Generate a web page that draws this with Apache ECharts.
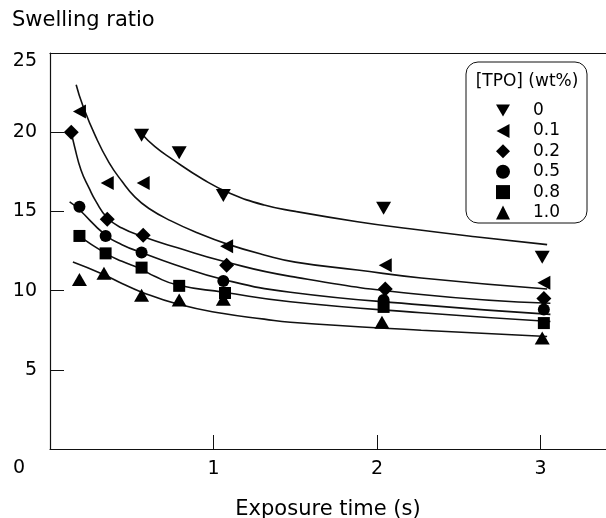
<!DOCTYPE html>
<html>
<head>
<meta charset="utf-8">
<script src="https://cdn.jsdelivr.net/npm/echarts@6/dist/echarts.min.js"></script>
<style>
  html, body { margin: 0; background: #fff; }
  #main { width: 606px; height: 518px; }
</style>
</head>
<body>
<div id="main"></div>
<script>
// [TPO] content (wt%) of each series
const concentrations = ['0', '0.1', '0.2', '0.5', '0.8', '1.0']

// measured swelling ratio vs exposure time (s)
const measured0 = [[0.56, 19.8], [0.79, 18.7], [1.06, 16.0], [2.04, 15.2], [3.01, 12.1]]
const measured1 = [[0.18, 21.3], [0.35, 16.8], [0.57, 16.8], [1.08, 12.8], [2.05, 11.6], [3.02, 10.5]]
const measured2 = [[0.13, 20.0], [0.35, 14.5], [0.57, 13.5], [1.08, 11.6], [2.05, 10.1], [3.02, 9.5]]
const measured3 = [[0.18, 15.3], [0.34, 13.45], [0.56, 12.4], [1.06, 10.6], [2.04, 9.4], [3.02, 8.8]]
const measured4 = [[0.18, 13.45], [0.34, 12.35], [0.56, 11.45], [0.79, 10.3], [1.07, 9.85], [2.04, 8.97], [3.02, 7.95]]
const measured5 = [[0.18, 10.7], [0.33, 11.1], [0.56, 9.7], [0.79, 9.4], [1.06, 9.45], [2.03, 8.0], [3.01, 7.0]]

// fitted curves
const fitted0 = [[0.56, 19.9], [0.64, 19.1], [0.74, 18.35], [0.94, 17.0], [1.1, 16.15], [1.31, 15.4], [1.5, 15.0], [1.88, 14.35], [2.2, 13.9], [2.6, 13.4], [3.04, 12.9]]
const fitted1 = [[0.16, 23.0], [0.2, 21.7], [0.28, 19.7], [0.36, 18.1], [0.44, 16.9], [0.52, 15.9], [0.61, 15.15], [0.74, 14.4], [0.9, 13.65], [1.08, 12.95], [1.31, 12.25], [1.5, 11.8], [1.88, 11.3], [2.27, 10.8], [3.04, 10.1]]
const fitted2 = [[0.13, 20.0], [0.15, 19.1], [0.19, 17.6], [0.24, 16.45], [0.28, 15.65], [0.35, 14.6], [0.44, 13.95], [0.57, 13.4], [0.78, 12.7], [1.06, 11.85], [1.47, 10.9], [2.27, 9.75], [3.06, 9.2]]
const fitted3 = [[0.12, 15.6], [0.17, 15.2], [0.34, 13.5], [0.44, 12.9], [0.56, 12.4], [0.76, 11.65], [1.06, 10.7], [1.47, 9.9], [2.27, 9.1], [3.06, 8.5]]
const fitted4 = [[0.17, 13.5], [0.34, 12.35], [0.44, 11.85], [0.55, 11.4], [0.64, 10.9], [0.78, 10.35], [1.06, 9.9], [1.47, 9.3], [2.27, 8.6], [3.06, 8.05]]
const fitted5 = [[0.14, 11.8], [0.32, 11.05], [0.44, 10.45], [0.55, 9.95], [0.78, 9.15], [1.06, 8.55], [1.31, 8.2], [1.47, 8.0], [2.27, 7.5], [3.04, 7.1]]

const xTickLabels = ['', '1', '2', '3']
const yTickLabels = ['', '5', '10', '15', '20', '{top|25}']

;(function () {
  const font = 'DejaVu Sans'
  const ink = '#111'

  const measured = [measured0, measured1, measured2, measured3, measured4, measured5]
  const fitted = [fitted0, fitted1, fitted2, fitted3, fitted4, fitted5]

  // pointing down / left triangles drawn as paths so the legend shows them too
  const down = 'path://M0,0 L15,0 L7.5,13 Z'
  const left = 'path://M13,0 L13,14 L0,7 Z'

  const marks = [
    { symbol: down, size: [15, 13] },
    { symbol: left, size: [13, 14] },
    { symbol: 'diamond', size: [15, 15] },
    { symbol: 'circle', size: 12 },
    { symbol: 'rect', size: 12 },
    { symbol: 'triangle', size: [15, 13] },
  ]

  const series = []
  for (let i = 0; i < concentrations.length; i++) {
    series.push({
      name: 'fit' + i,
      type: 'line',
      data: fitted[i],
      smooth: 0.5,
      showSymbol: false,
      lineStyle: { color: ink, width: 1.6 },
      z: 2,
      silent: true,
    })
    series.push({
      name: concentrations[i],
      type: 'scatter',
      data: measured[i],
      symbol: marks[i].symbol,
      symbolSize: marks[i].size,
      itemStyle: { color: '#000', opacity: 1 },
      z: 3,
    })
  }

  const chart = echarts.init(document.getElementById('main'))
  chart.setOption({
    animation: false,
    backgroundColor: '#fff',
    textStyle: { fontFamily: font, color: '#000' },
    grid: { left: 50, right: 0, top: 53, bottom: 69, outerBoundsMode: 'none', containLabel: false },
    xAxis: [
      {
        type: 'value',
        min: 0,
        max: 3.4,
        interval: 1,
        name: 'Exposure time (s)',
        nameLocation: 'middle',
        nameGap: 50,
        nameTextStyle: { fontFamily: font, fontSize: 21, color: '#000' },
        axisLine: { lineStyle: { color: ink, width: 1.2 } },
        axisTick: { inside: true, length: 14, lineStyle: { color: ink } },
        axisLabel: {
          fontFamily: font,
          fontSize: 19,
          color: '#000',
          margin: 11,
          showMaxLabel: false,
          formatter: (v) => xTickLabels[Math.round(v)] || '',
        },
        splitLine: { show: false },
      },
      {
        type: 'value',
        position: 'top',
        min: 0,
        max: 3.4,
        axisLine: { show: true, lineStyle: { color: ink, width: 1.2 } },
        axisTick: { show: false },
        axisLabel: { show: false },
        splitLine: { show: false },
      },
    ],
    yAxis: {
      type: 'value',
      min: 0,
      max: 25,
      interval: 5,
      axisLine: { show: true, lineStyle: { color: ink, width: 1.2 } },
      axisTick: { inside: true, length: 14, lineStyle: { color: ink } },
      axisLabel: {
        fontFamily: font,
        fontSize: 19,
        color: '#000',
        margin: 13,
        formatter: (v) => yTickLabels[Math.round(v / 5)] || '',
        rich: { top: { fontFamily: font, fontSize: 19, color: '#000', padding: [16, 0, 0, 0] } },
      },
      splitLine: { show: false },
    },
    legend: {
      data: concentrations.map((name, i) => ({ name, icon: marks[i].symbol })),
      orient: 'vertical',
      left: 491,
      top: 97,
      itemWidth: 14,
      itemHeight: 14,
      itemGap: 3.4,
      selectedMode: false,
      itemStyle: { color: '#000' },
      textStyle: { fontFamily: font, fontSize: 17, color: '#000', lineHeight: 17, padding: [0, 0, 0, 18] },
      z: 5,
    },
    graphic: [
      {
        type: 'rect',
        shape: { x: 466, y: 62, width: 121, height: 161, r: 12 },
        style: { fill: '#fff', stroke: ink, lineWidth: 1 },
        z: 4,
      },
      {
        type: 'text',
        x: 527,
        y: 82,
        style: { text: '[TPO] (wt%)', font: '17px "DejaVu Sans"', fill: '#000', align: 'center', verticalAlign: 'middle' },
        z: 5,
      },
      {
        type: 'text',
        x: 12,
        y: 21,
        style: { text: 'Swelling ratio', font: '21px "DejaVu Sans"', fill: '#000', verticalAlign: 'middle' },
        z: 5,
      },
      {
        type: 'text',
        x: 19,
        y: 468,
        style: { text: '0', font: '19px "DejaVu Sans"', fill: '#000', align: 'center', verticalAlign: 'middle' },
        z: 5,
      },
    ],
    series,
  })
})()
</script>
</body>
</html>
